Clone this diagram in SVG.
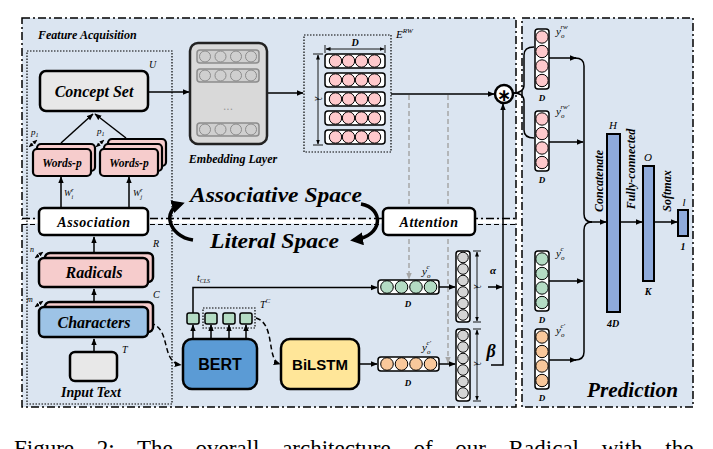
<svg xmlns="http://www.w3.org/2000/svg" width="713" height="449" viewBox="0 0 713 449">
<defs>
<style>
.bi{font-family:'Liberation Serif',serif;font-weight:700;font-style:italic;fill:#000}
.it{font-family:'Liberation Serif',serif;font-style:italic;fill:#000}
.sb{font-family:'Liberation Sans',Arial,sans-serif;font-weight:700;fill:#000}
.ln{stroke:#000;stroke-width:1.5;fill:none}
.dl{stroke:#000;stroke-width:1.5;fill:none;stroke-dasharray:5 3}
.gl{stroke:#a6a6a6;stroke-width:1.5;fill:none;stroke-dasharray:5 3}
.dim{stroke:#000;stroke-width:0.9;fill:none}
.vec{fill:#fff;stroke:#000;stroke-width:1.5}
.cp{fill:#ffc9cc;stroke:#000;stroke-width:1}
.cg{fill:#b4dcc4;stroke:#000;stroke-width:1}
.co{fill:#f9c89b;stroke:#000;stroke-width:1}
.cy{fill:#d4d4d4;stroke:#000;stroke-width:1}
.ce{fill:#cfcfcf;stroke:#8c8c8c;stroke-width:1}
.bar{fill:#8eaadb;stroke:#000;stroke-width:2}
.panel{fill:#dbe5f1;stroke:#000;stroke-width:1.5;stroke-dasharray:8 3 2 3}
</style>
<marker id="a" viewBox="0 0 10 10" refX="9" refY="5" markerWidth="7" markerHeight="7" markerUnits="userSpaceOnUse" orient="auto"><path d="M0,1L10,5L0,9z" fill="#000"/></marker>
<marker id="ag" viewBox="0 0 10 10" refX="9" refY="5" markerWidth="7" markerHeight="7" markerUnits="userSpaceOnUse" orient="auto"><path d="M0,1L10,5L0,9z" fill="#a6a6a6"/></marker>
<marker id="ab" viewBox="0 0 10 10" refX="7" refY="5" markerWidth="13" markerHeight="13" markerUnits="userSpaceOnUse" orient="auto"><path d="M0,0L10,5L0,10z" fill="#000"/></marker>
<marker id="ad" viewBox="0 0 10 10" refX="9" refY="5" markerWidth="5" markerHeight="5" markerUnits="userSpaceOnUse" orient="auto-start-reverse"><path d="M0,1L10,5L0,9z" fill="#000"/></marker>
</defs>
<rect x="0" y="0" width="713" height="449" fill="#fff"/>

<!-- panels -->
<g id="panels">
<rect class="panel" x="22" y="18" width="494" height="389"/>
<rect class="panel" x="522" y="18" width="171" height="389"/>
<rect x="20" y="219.5" width="498" height="4" fill="#fff"/>
<line x1="22" y1="218.5" x2="516" y2="218.5" stroke="#000" stroke-width="1.5" stroke-dasharray="8 3 2 3"/>
<line x1="22" y1="224.5" x2="516" y2="224.5" stroke="#000" stroke-width="1" stroke-dasharray="5 3"/>
<rect x="27" y="51" width="145" height="353" fill="none" stroke="#000" stroke-width="1.2" stroke-dasharray="1.5 1.5"/>
<text class="bi" x="38" y="39" font-size="12">Feature Acquisition</text>
<text class="bi" x="587" y="397" font-size="20" textLength="91" lengthAdjust="spacingAndGlyphs">Prediction</text>
<text class="bi" x="190" y="202" font-size="21" textLength="172" lengthAdjust="spacingAndGlyphs">Associative Space</text>
<text class="bi" x="210" y="248" font-size="21" textLength="129" lengthAdjust="spacingAndGlyphs">Literal Space</text>
</g>

<!-- connectors -->
<g id="connectors">
<line class="ln" x1="148" y1="92" x2="189" y2="92" marker-end="url(#a)"/>
<line class="ln" x1="267" y1="93" x2="303" y2="93" marker-end="url(#a)"/>
<line class="ln" x1="391" y1="94" x2="494" y2="94" marker-end="url(#a)"/>
<line class="gl" x1="409" y1="95" x2="409" y2="279" marker-end="url(#ag)"/>
<line class="gl" x1="448" y1="95" x2="448" y2="363" marker-end="url(#ag)"/>
<line class="ln" x1="61" y1="143" x2="93" y2="114" marker-end="url(#a)"/>
<line class="ln" x1="126" y1="138" x2="95" y2="114" marker-end="url(#a)"/>
<line class="ln" x1="61" y1="208" x2="61" y2="177" marker-end="url(#a)"/>
<line class="ln" x1="129" y1="208" x2="129" y2="177" marker-end="url(#a)"/>
<line class="ln" x1="94" y1="258" x2="94" y2="237" marker-end="url(#a)"/>
<line class="ln" x1="94" y1="307" x2="94" y2="289" marker-end="url(#a)"/>
<line class="ln" x1="94" y1="352" x2="94" y2="339" marker-end="url(#a)"/>
<path class="dl" d="M150,323 C172,328 160,362 181,365" marker-end="url(#a)"/>
<path class="dl" d="M256,318 C276,324 266,360 280,364" marker-end="url(#a)"/>
<polyline class="ln" points="193,313 193,287.5 377,287.5" marker-end="url(#a)"/>
<line class="ln" x1="193" y1="339" x2="193" y2="325" marker-end="url(#a)"/>
<line class="ln" x1="211" y1="339" x2="211" y2="325" marker-end="url(#a)"/>
<line class="ln" x1="229" y1="339" x2="229" y2="325" marker-end="url(#a)"/>
<line class="ln" x1="246" y1="339" x2="246" y2="325" marker-end="url(#a)"/>
<line class="ln" x1="359" y1="364" x2="377" y2="364" marker-end="url(#a)"/>
<line class="ln" x1="439" y1="287" x2="455" y2="287" marker-end="url(#a)"/>
<line class="ln" x1="439" y1="364" x2="455" y2="364" marker-end="url(#a)"/>
<line class="ln" x1="488" y1="287" x2="502" y2="287" marker-end="url(#a)"/>
<polyline class="ln" points="491,365 503,365 503,104" marker-end="url(#a)"/>
<path d="M193,240 C168,236 162,210 181,204" fill="none" stroke="#000" stroke-width="3.5" marker-end="url(#ab)"/>
<path d="M361,204 C384,208 384,236 354,240" fill="none" stroke="#000" stroke-width="3.5" marker-end="url(#ab)"/>
<path class="ln" d="M513,93 Q524,93 524,85 L524,55 Q524,47 534,47"/>
<path class="ln" d="M513,93 Q524,93 524,101 L524,130 Q524,138 534,138"/>
<line class="ln" x1="549" y1="58" x2="576" y2="58" marker-end="url(#a)"/>
<path class="ln" d="M575,58 Q584,58 584,66 L584,214 Q584,222 592,222"/>
<line class="ln" x1="590" y1="222" x2="606" y2="222" marker-end="url(#a)"/>
<path class="ln" d="M575,360 Q584,360 584,352 L584,230 Q584,222 592,222"/>
<line class="ln" x1="549" y1="360" x2="576" y2="360" marker-end="url(#a)"/>
<line class="ln" x1="549" y1="142" x2="583" y2="142" marker-end="url(#a)"/>
<line class="ln" x1="549" y1="281" x2="583" y2="281" marker-end="url(#a)"/>
<line class="ln" x1="620" y1="222" x2="642" y2="222" marker-end="url(#a)"/>
<line class="ln" x1="654" y1="222" x2="677" y2="222" marker-end="url(#a)"/>
</g>

<!-- Concept Set -->
<g id="concept-set">
<rect x="40" y="71" width="108" height="40" rx="6" fill="#e8e8e8" stroke="#000" stroke-width="2.5"/>
<text class="bi" x="94" y="97" font-size="16" text-anchor="middle">Concept Set</text>
<text class="it" x="149" y="68" font-size="10">U</text>
</g>

<!-- Embedding Layer -->
<g id="embedding-layer">
<rect x="190" y="43" width="77" height="101" rx="8" fill="#d9d9d9" stroke="#222" stroke-width="2.5"/>
<g>
<rect x="197" y="50" width="62" height="13" rx="3" fill="#cfcfcf" stroke="#8c8c8c" stroke-width="1.5"/>
<circle class="ce" cx="205" cy="56.5" r="5.5"/><circle class="ce" cx="220.5" cy="56.5" r="5.5"/><circle class="ce" cx="236" cy="56.5" r="5.5"/><circle class="ce" cx="251" cy="56.5" r="5.5"/>
<rect x="197" y="69" width="62" height="13" rx="3" fill="#cfcfcf" stroke="#8c8c8c" stroke-width="1.5"/>
<circle class="ce" cx="205" cy="75.5" r="5.5"/><circle class="ce" cx="220.5" cy="75.5" r="5.5"/><circle class="ce" cx="236" cy="75.5" r="5.5"/><circle class="ce" cx="251" cy="75.5" r="5.5"/>
<rect x="197" y="123" width="62" height="13" rx="3" fill="#cfcfcf" stroke="#8c8c8c" stroke-width="1.5"/>
<circle class="ce" cx="205" cy="129.5" r="5.5"/><circle class="ce" cx="220.5" cy="129.5" r="5.5"/><circle class="ce" cx="236" cy="129.5" r="5.5"/><circle class="ce" cx="251" cy="129.5" r="5.5"/>
<text x="228" y="110" font-family="'Liberation Sans', sans-serif" font-size="12" fill="#999" text-anchor="middle">...</text>
</g>
<text class="bi" x="233" y="163" font-size="12" text-anchor="middle">Embedding Layer</text>
</g>

<!-- E^RW -->
<g id="e-rw">
<rect x="304" y="35" width="87" height="117" fill="none" stroke="#000" stroke-width="1.2" stroke-dasharray="1.5 1.5"/>
<text class="it" x="396" y="38" font-size="11">E<tspan font-size="7" dy="-5">RW</tspan></text>
<line class="dim" x1="326" y1="49" x2="384" y2="49" marker-start="url(#ad)" marker-end="url(#ad)"/>
<line class="dim" x1="325" y1="45" x2="325" y2="53"/><line class="dim" x1="385" y1="45" x2="385" y2="53"/>
<text class="bi" x="355" y="46" font-size="10" text-anchor="middle">D</text>
<line class="dim" x1="318" y1="55" x2="318" y2="144" marker-start="url(#ad)" marker-end="url(#ad)"/>
<line class="dim" x1="313" y1="54" x2="323" y2="54"/><line class="dim" x1="313" y1="145" x2="323" y2="145"/>
<text class="it" x="0" y="0" font-size="10" text-anchor="middle" transform="translate(315,99) rotate(90)">λ</text>
<rect class="vec" x="325" y="54" width="60" height="14" rx="3"/>
<circle class="cp" cx="335.5" cy="61" r="6.2"/><circle class="cp" cx="348.5" cy="61" r="6.2"/><circle class="cp" cx="361.5" cy="61" r="6.2"/><circle class="cp" cx="374.5" cy="61" r="6.2"/>
<rect class="vec" x="325" y="73" width="60" height="14" rx="3"/>
<circle class="cp" cx="335.5" cy="80" r="6.2"/><circle class="cp" cx="348.5" cy="80" r="6.2"/><circle class="cp" cx="361.5" cy="80" r="6.2"/><circle class="cp" cx="374.5" cy="80" r="6.2"/>
<rect class="vec" x="325" y="92" width="60" height="14" rx="3"/>
<circle class="cp" cx="335.5" cy="99" r="6.2"/><circle class="cp" cx="348.5" cy="99" r="6.2"/><circle class="cp" cx="361.5" cy="99" r="6.2"/><circle class="cp" cx="374.5" cy="99" r="6.2"/>
<rect class="vec" x="325" y="111" width="60" height="14" rx="3"/>
<circle class="cp" cx="335.5" cy="118" r="6.2"/><circle class="cp" cx="348.5" cy="118" r="6.2"/><circle class="cp" cx="361.5" cy="118" r="6.2"/><circle class="cp" cx="374.5" cy="118" r="6.2"/>
<rect class="vec" x="325" y="130" width="60" height="14" rx="3"/>
<circle class="cp" cx="335.5" cy="137" r="6.2"/><circle class="cp" cx="348.5" cy="137" r="6.2"/><circle class="cp" cx="361.5" cy="137" r="6.2"/><circle class="cp" cx="374.5" cy="137" r="6.2"/>
</g>

<!-- star operator -->
<g id="star-op">
<circle cx="504" cy="94" r="9" fill="#fff" stroke="#000" stroke-width="2.5"/>
<text x="504" y="100.5" font-family="'DejaVu Sans', sans-serif" font-weight="700" font-size="17" text-anchor="middle">∗</text>
</g>

<!-- Words-p -->
<g id="words-p-1">
<rect x="37" y="144" width="58" height="27" rx="4" fill="#f6cccc" stroke="#000" stroke-width="2.2"/>
<rect x="33" y="149" width="58" height="27" rx="4" fill="#f6cccc" stroke="#000" stroke-width="2.2"/>
<text class="bi" x="62" y="167" font-size="11.5" text-anchor="middle">Words-p</text>
<text class="it" x="31" y="135" font-size="9">p<tspan font-size="6" dy="2">1</tspan></text>
<line x1="29" y1="147" x2="37" y2="140" stroke="#000" stroke-width="0.8" stroke-dasharray="1 1" marker-start="url(#ad)" marker-end="url(#ad)"/>
</g>
<g id="words-p-2">
<rect x="108" y="139" width="58" height="27" rx="4" fill="#f6cccc" stroke="#000" stroke-width="2.2"/>
<rect x="104" y="144" width="58" height="27" rx="4" fill="#f6cccc" stroke="#000" stroke-width="2.2"/>
<rect x="100" y="149" width="58" height="27" rx="4" fill="#f6cccc" stroke="#000" stroke-width="2.2"/>
<text class="bi" x="129" y="167" font-size="11.5" text-anchor="middle">Words-p</text>
<text class="it" x="97" y="134" font-size="9">p<tspan font-size="6" dy="2">1</tspan></text>
<line x1="96" y1="147" x2="104" y2="140" stroke="#000" stroke-width="0.8" stroke-dasharray="1 1" marker-start="url(#ad)" marker-end="url(#ad)"/>
</g>
<text class="it" x="64" y="196" font-size="9">W<tspan font-size="6" dy="3">i</tspan><tspan font-size="6" dx="-2" dy="-7">r</tspan></text>
<text class="it" x="133" y="196" font-size="9">W<tspan font-size="6" dy="3">j</tspan><tspan font-size="6" dx="-2" dy="-7">r</tspan></text>

<!-- Association -->
<g id="association">
<rect x="39" y="208" width="109" height="27" rx="5" fill="#fff" stroke="#000" stroke-width="2.5"/>
<text class="bi" x="94" y="227" font-size="14" text-anchor="middle" letter-spacing="0.6">Association</text>
</g>

<!-- Attention -->
<g id="attention">
<rect x="383" y="208" width="92" height="27" rx="5" fill="#fff" stroke="#000" stroke-width="2.5"/>
<text class="bi" x="429" y="227" font-size="14" text-anchor="middle" letter-spacing="0.6">Attention</text>
</g>

<!-- Radicals -->
<g id="radicals">
<rect x="45" y="253" width="108" height="29" rx="5" fill="#f6cccc" stroke="#000" stroke-width="2.5"/>
<rect x="39" y="258" width="109" height="29" rx="5" fill="#f6cccc" stroke="#000" stroke-width="2.5"/>
<text class="bi" x="94" y="278" font-size="16" text-anchor="middle">Radicals</text>
<text class="it" x="153" y="247" font-size="10">R</text>
<text class="it" x="30" y="252" font-size="8">n</text>
<line x1="35" y1="258" x2="43" y2="252" stroke="#000" stroke-width="0.8" stroke-dasharray="1 1" marker-start="url(#ad)" marker-end="url(#ad)"/>
</g>

<!-- Characters -->
<g id="characters">
<rect x="45" y="302" width="108" height="30" rx="5" fill="#f6cccc" stroke="#000" stroke-width="2.5"/>
<rect x="39" y="307" width="109" height="30" rx="5" fill="#9dc3e6" stroke="#000" stroke-width="2.5"/>
<text class="bi" x="94" y="328" font-size="16" text-anchor="middle">Characters</text>
<text class="it" x="153" y="298" font-size="10">C</text>
<text class="it" x="27" y="302" font-size="8">m</text>
<line x1="35" y1="307" x2="43" y2="301" stroke="#000" stroke-width="0.8" stroke-dasharray="1 1" marker-start="url(#ad)" marker-end="url(#ad)"/>
</g>

<!-- Input Text -->
<g id="input-text">
<rect x="70" y="352" width="47" height="29" rx="5" fill="#e8e8e8" stroke="#000" stroke-width="2.5"/>
<text class="it" x="122" y="353" font-size="10">T</text>
<text class="bi" x="91" y="397" font-size="14" text-anchor="middle">Input Text</text>
</g>

<!-- BERT -->
<g id="bert">
<rect x="183" y="339" width="74" height="50" rx="9" fill="#5b9bd5" stroke="#000" stroke-width="2.5"/>
<text class="sb" x="220" y="370" font-size="16" text-anchor="middle">BERT</text>
<rect x="187" y="313" width="12" height="11" rx="2" fill="#b4dcc4" stroke="#000" stroke-width="1.5"/>
<rect x="203" y="308" width="52" height="20" fill="none" stroke="#000" stroke-width="1.2" stroke-dasharray="1.5 1.5"/>
<rect x="205" y="313" width="12" height="11" rx="2" fill="#b4dcc4" stroke="#000" stroke-width="1.5"/>
<rect x="223" y="313" width="12" height="11" rx="2" fill="#b4dcc4" stroke="#000" stroke-width="1.5"/>
<rect x="240" y="313" width="12" height="11" rx="2" fill="#b4dcc4" stroke="#000" stroke-width="1.5"/>
<text class="it" x="260" y="308" font-size="10">T<tspan font-size="7" dy="-5">C</tspan></text>
<text class="it" x="197" y="281" font-size="10">t<tspan font-size="6" dy="2">CLS</tspan></text>
</g>

<!-- BiLSTM -->
<g id="bilstm">
<rect x="281" y="339" width="78" height="50" rx="9" fill="#ffe699" stroke="#000" stroke-width="2.5"/>
<text class="sb" x="320" y="370" font-size="15" text-anchor="middle">BiLSTM</text>
</g>

<!-- literal vectors -->
<g id="vec-yc">
<rect class="vec" x="378" y="280" width="61" height="14" rx="3"/>
<circle class="cg" cx="387" cy="287" r="6.3"/><circle class="cg" cx="401.5" cy="287" r="6.3"/><circle class="cg" cx="416" cy="287" r="6.3"/><circle class="cg" cx="430.5" cy="287" r="6.3"/>
<text class="it" x="422" y="275" font-size="11">y<tspan font-size="7" dy="3">o</tspan><tspan font-size="7" dx="-4" dy="-9">c</tspan></text>
<text class="bi" x="408" y="307" font-size="9" text-anchor="middle">D</text>
</g>
<g id="vec-yc2">
<rect class="vec" x="378" y="357" width="61" height="14" rx="3"/>
<circle class="co" cx="387" cy="364" r="6.3"/><circle class="co" cx="401.5" cy="364" r="6.3"/><circle class="co" cx="416" cy="364" r="6.3"/><circle class="co" cx="430.5" cy="364" r="6.3"/>
<text class="it" x="422" y="351" font-size="11">y<tspan font-size="7" dy="3">o</tspan><tspan font-size="7" dx="-4" dy="-9">c′</tspan></text>
<text class="bi" x="408" y="386" font-size="9" text-anchor="middle">D</text>
</g>

<!-- tall gray vectors -->
<g id="tall-upper">
<rect class="vec" x="456" y="251" width="14" height="71" rx="3"/>
<circle class="cy" cx="463" cy="257.5" r="5.3"/><circle class="cy" cx="463" cy="269" r="5.3"/><circle class="cy" cx="463" cy="280.5" r="5.3"/><circle class="cy" cx="463" cy="292" r="5.3"/><circle class="cy" cx="463" cy="303.5" r="5.3"/><circle class="cy" cx="463" cy="315" r="5.3"/>
<line class="dim" x1="477" y1="252" x2="477" y2="321" marker-start="url(#ad)" marker-end="url(#ad)"/>
<line class="dim" x1="473" y1="251" x2="481" y2="251"/><line class="dim" x1="473" y1="322" x2="481" y2="322"/>
<text class="it" x="0" y="0" font-size="10" text-anchor="middle" transform="translate(474,287) rotate(90)">λ</text>
<text class="bi" x="493" y="274" font-size="11" text-anchor="middle">α</text>
</g>
<g id="tall-lower">
<rect class="vec" x="456" y="329" width="14" height="72" rx="3"/>
<circle class="cy" cx="463" cy="335.5" r="5.3"/><circle class="cy" cx="463" cy="347" r="5.3"/><circle class="cy" cx="463" cy="358.5" r="5.3"/><circle class="cy" cx="463" cy="370" r="5.3"/><circle class="cy" cx="463" cy="381.5" r="5.3"/><circle class="cy" cx="463" cy="393" r="5.3"/>
<line class="dim" x1="477" y1="330" x2="477" y2="400" marker-start="url(#ad)" marker-end="url(#ad)"/>
<line class="dim" x1="473" y1="329" x2="481" y2="329"/><line class="dim" x1="473" y1="401" x2="481" y2="401"/>
<text class="it" x="0" y="0" font-size="10" text-anchor="middle" transform="translate(474,364) rotate(90)">λ</text>
<text class="bi" x="491" y="357" font-size="18" text-anchor="middle">β</text>
</g>

<!-- prediction vectors -->
<g id="pred-yrw">
<rect class="vec" x="535" y="29" width="14" height="60" rx="3"/>
<circle class="cp" cx="542" cy="37" r="6.2"/><circle class="cp" cx="542" cy="51.5" r="6.2"/><circle class="cp" cx="542" cy="66" r="6.2"/><circle class="cp" cx="542" cy="80.5" r="6.2"/>
<text class="it" x="556" y="35" font-size="11">y<tspan font-size="7" dy="3">o</tspan><tspan font-size="7" dx="-4" dy="-9">rw</tspan></text>
<text class="bi" x="542" y="101" font-size="9" text-anchor="middle">D</text>
</g>
<g id="pred-yrw2">
<rect class="vec" x="535" y="111" width="14" height="60" rx="3"/>
<circle class="cp" cx="542" cy="119" r="6.2"/><circle class="cp" cx="542" cy="133.5" r="6.2"/><circle class="cp" cx="542" cy="148" r="6.2"/><circle class="cp" cx="542" cy="162.5" r="6.2"/>
<text class="it" x="556" y="115" font-size="11">y<tspan font-size="7" dy="3">o</tspan><tspan font-size="7" dx="-4" dy="-9">rw′</tspan></text>
<text class="bi" x="542" y="183" font-size="9" text-anchor="middle">D</text>
</g>
<g id="pred-yc">
<rect class="vec" x="535" y="251" width="14" height="60" rx="3"/>
<circle class="cg" cx="542" cy="259" r="6.2"/><circle class="cg" cx="542" cy="273.5" r="6.2"/><circle class="cg" cx="542" cy="288" r="6.2"/><circle class="cg" cx="542" cy="302.5" r="6.2"/>
<text class="it" x="556" y="257" font-size="11">y<tspan font-size="7" dy="3">o</tspan><tspan font-size="7" dx="-4" dy="-9">c</tspan></text>
<text class="bi" x="542" y="323" font-size="9" text-anchor="middle">D</text>
</g>
<g id="pred-yc2">
<rect class="vec" x="535" y="329" width="14" height="60" rx="3"/>
<circle class="co" cx="542" cy="337" r="6.2"/><circle class="co" cx="542" cy="351.5" r="6.2"/><circle class="co" cx="542" cy="366" r="6.2"/><circle class="co" cx="542" cy="380.5" r="6.2"/>
<text class="it" x="556" y="334" font-size="11">y<tspan font-size="7" dy="3">o</tspan><tspan font-size="7" dx="-4" dy="-9">c′</tspan></text>
<text class="bi" x="542" y="401" font-size="9" text-anchor="middle">D</text>
</g>

<!-- bars -->
<g id="bar-h">
<rect class="bar" x="607" y="134" width="13" height="178"/>
<text class="it" x="613" y="129" font-size="11" text-anchor="middle">H</text>
<text class="bi" x="613" y="327" font-size="10" text-anchor="middle">4D</text>
<text class="bi" x="0" y="0" font-size="12" text-anchor="middle" transform="translate(603,181) rotate(-90)">Concatenate</text>
</g>
<g id="bar-o">
<rect class="bar" x="643" y="166" width="11" height="115"/>
<text class="it" x="648" y="161" font-size="11" text-anchor="middle">O</text>
<text class="bi" x="648" y="295" font-size="10" text-anchor="middle">K</text>
<text class="bi" x="0" y="0" font-size="12" text-anchor="middle" transform="translate(635,169) rotate(-90)">Fully-connected</text>
</g>
<g id="bar-out">
<rect class="bar" x="678" y="210" width="10" height="26"/>
<text class="it" x="684" y="206" font-size="11" text-anchor="middle">l</text>
<text class="bi" x="683" y="250" font-size="10" text-anchor="middle">1</text>
<text class="bi" x="0" y="0" font-size="12" text-anchor="middle" transform="translate(671,191) rotate(-90)">Softmax</text>
</g>

<text x="14" y="456" font-family="'Liberation Serif', serif" font-size="23" word-spacing="17">Figure 2: The overall architecture of our Radical with the</text>
</svg>
